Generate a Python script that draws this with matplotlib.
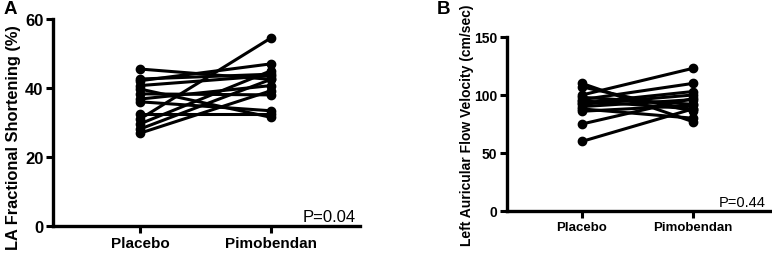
import numpy as np
import matplotlib
matplotlib.use("Agg")
import matplotlib.pyplot as plt

plt.rcParams['font.family'] = ['Liberation Sans', 'DejaVu Sans']

groups = ['Placebo', 'Pimobendan']

# panel A - LA fractional shortening (%)
fs_placebo = [45.5, 42.6, 42.1, 40.7, 39.7, 38.3, 36.8, 36.0, 32.5, 31.0, 29.6, 28.1, 26.9]
fs_pimo = [42.5, 44.0, 47.0, 43.6, 31.5, 38.0, 40.7, 33.4, 32.5, 54.5, 45.0, 42.5, 39.2]

# panel B - left auricular flow velocity (cm/sec)
v_placebo = [110, 107, 100, 98, 96, 95, 93, 92, 90, 88, 86, 75, 60]
v_pimo = [77, 86, 123, 92, 110, 88, 103, 100, 96, 80, 91, 97, 88]

fig = plt.figure(figsize=(7.72, 2.55), dpi=100)
W, H = 772.0, 255.0


def panel(rect, pre, post, ylim, yticks, xlim, ylabel, ptext, fs_tick, fs_lab, fs_x, fs_p, label_y):
    ax = fig.add_axes(rect)
    for a, b in zip(pre, post):
        ax.plot([0, 1], [a, b], '-o', color='black', lw=2.2, ms=6, clip_on=False)
    ax.set_xlim(*xlim)
    ax.set_ylim(*ylim)
    ax.set_yticks(yticks)
    ax.set_xticks([0, 1])
    ax.set_xticklabels(groups, fontsize=fs_x, fontweight='bold')
    for t in ax.get_yticklabels():
        t.set_fontsize(fs_tick)
        t.set_fontweight('bold')
    ax.spines['top'].set_visible(False)
    ax.spines['right'].set_visible(False)
    for s in ['left', 'bottom']:
        ax.spines[s].set_linewidth(2.4)
    ax.tick_params(width=2.2, length=5, direction='out', pad=2)
    ax.set_ylabel(ylabel, fontsize=fs_lab, fontweight='bold')
    ax.yaxis.set_label_coords(label_y[0], label_y[1])
    ax.text(0.985, 0.01, ptext, transform=ax.transAxes, ha='right', va='bottom', fontsize=fs_p)
    return ax


# panel A
axA = panel([53 / W, (H - 227) / H, (360 - 53) / W, (227 - 20) / H],
            fs_placebo, fs_pimo, (0, 60), [0, 20, 40, 60], (-0.664, 1.68),
            'LA Fractional Shortening (%)', 'P=0.04', 12, 11.8, 11, 12, (-0.103, 0.43))
axB = panel([507 / W, (H - 212) / H, (770 - 507) / W, (212 - 38) / H],
            v_placebo, v_pimo, (0, 150), [0, 50, 100, 150], (-0.676, 1.695),
            'Left Auricular Flow Velocity (cm/sec)', 'P=0.44', 10, 10, 9.5, 10.5, (-0.125, 0.5))

fig.text(4 / W, 1 - 9 / H, 'A', fontsize=13.5, fontweight='bold', va='center')
fig.text(437 / W, 1 - 9 / H, 'B', fontsize=13.5, fontweight='bold', va='center')

fig.savefig('out.png', dpi=100)
